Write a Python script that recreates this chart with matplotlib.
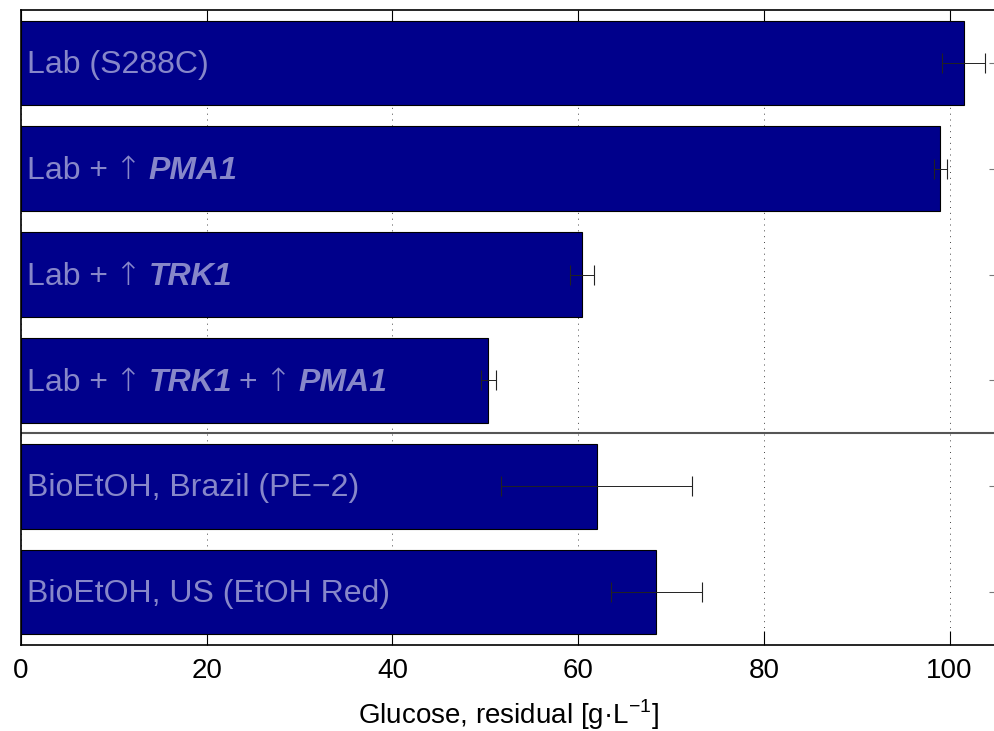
import numpy as np
import matplotlib
matplotlib.use('Agg')
import matplotlib.pyplot as plt
from matplotlib.offsetbox import TextArea, HPacker, AnnotationBbox

plt.rcParams['font.family'] = ['Liberation Sans', 'DejaVu Sans']

# strains, top to bottom; each label is a list of (text, style) pieces
# style: 'n' normal, 'bi' bold italic gene name, 'arr' up arrow
labels = [
    [('Lab (S288C)', 'n')],
    [('Lab +', 'n'), ('\u2191', 'arr'), ('PMA1', 'bi')],
    [('Lab +', 'n'), ('\u2191', 'arr'), ('TRK1', 'bi')],
    [('Lab +', 'n'), ('\u2191', 'arr'), ('TRK1', 'bi'), ('+', 'n'), ('\u2191', 'arr'), ('PMA1', 'bi')],
    [('BioEtOH, Brazil (PE\u22122)', 'n')],
    [('BioEtOH, US (EtOH Red)', 'n')],
]
glucose = [101.5, 99.0, 60.4, 50.3, 62.0, 68.4]
glucose_err = [2.3, 0.7, 1.3, 0.8, 10.3, 4.9]

bar_col = '#00008B'
txt_col = '#8787C9'

fig = plt.figure(figsize=(9.94, 7.31), dpi=100)
ax = fig.add_axes([21 / 994, 1 - 645 / 731, 975 / 994, 635 / 731])

ypos = np.arange(1, len(glucose) + 1)
ax.barh(ypos, glucose, height=0.8, color=bar_col, edgecolor='k', linewidth=0.8, zorder=2)
ax.errorbar(glucose, ypos, xerr=glucose_err, fmt='none', ecolor='#222222',
            elinewidth=0.7, capsize=7, capthick=0.8, zorder=3)

# separator between engineered lab strains and industrial strains
ax.axhline(4.5, color='#555555', linewidth=1.5, zorder=1)

styles = {
    'n': dict(fontweight='normal', fontstyle='normal'),
    'bi': dict(fontweight='bold', fontstyle='italic'),
    'arr': dict(fontweight='light', fontstyle='normal', family='DejaVu Sans', fontsize=23),
}
for y, parts in zip(ypos, labels):
    boxes = []
    for s, st in parts:
        props = dict(fontsize=23, color=txt_col)
        props.update(styles[st])
        boxes.append(TextArea(s, textprops=props))
    pack = HPacker(children=boxes, align='baseline', pad=0, sep=5)
    ab = AnnotationBbox(pack, (0.6, y + 0.02), xycoords='data', box_alignment=(0, 0.5),
                        frameon=False, pad=0, zorder=4)
    ax.add_artist(ab)

ax.set_xlim(0, 105)
ax.set_ylim(6.5, 0.5)
ax.set_xticks([0, 20, 40, 60, 80, 100])
ax.set_yticks(ypos)
ax.set_yticklabels([])
ax.set_axisbelow(True)
ax.xaxis.grid(True, linestyle=(0, (1, 5)), color='#444444', linewidth=0.7)
ax.tick_params(axis='x', direction='in', length=10, top=True, labelsize=20, pad=9)
ax.tick_params(axis='y', direction='in', length=5, left=True, right=True, color='#777777')
ax.spines['right'].set_visible(False)
for sp in ('top', 'bottom', 'left'):
    ax.spines[sp].set_linewidth(1.2)
ax.set_xlabel('Glucose, residual [g\u00b7L$^{\\mathregular{-1}}$]', fontsize=20, labelpad=10)

fig.savefig('out.png', dpi=100)
